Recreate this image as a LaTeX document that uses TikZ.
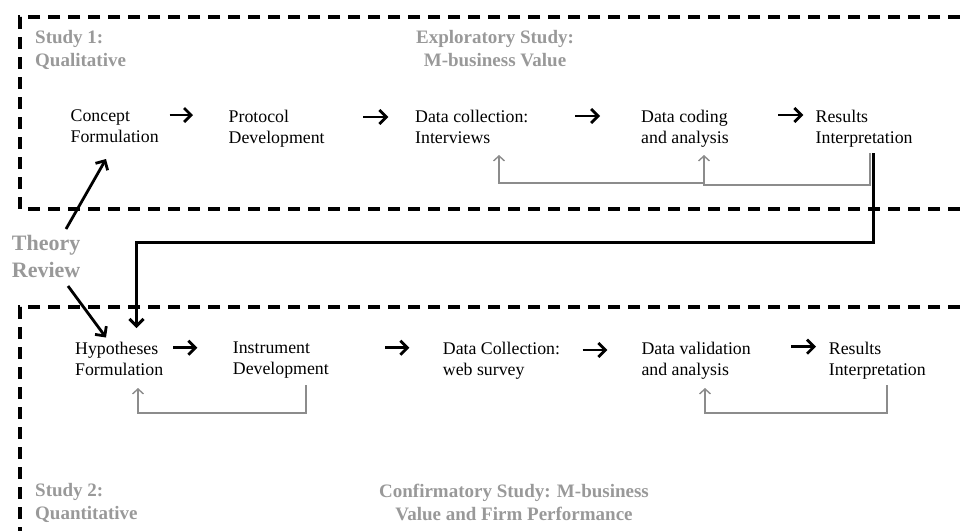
\documentclass[tikz,border=0pt]{standalone}
\usepackage{fontspec}
\setmainfont{Liberation Serif}
\usepackage{tikz}
\usetikzlibrary{arrows.meta, positioning}

\definecolor{labelgray}{gray}{0.6}
\definecolor{loopgray}{gray}{0.55}

\begin{document}
\begin{tikzpicture}[x=1pt, y=-1pt,
    dashbox/.style={draw=black, line width=3.3pt, dash pattern=on 12pt off 8pt},
    flow/.style={draw=black, line width=2.8pt, -{Straight Barb[length=7pt,width=14pt]}},
    link/.style={draw=black, line width=3pt, -{Straight Barb[length=7pt,width=14pt]}},
    fb/.style={draw=loopgray, line width=1.4pt, -{Straight Barb[length=5pt,width=11pt]}}]
        \useasboundingbox (0,0) rectangle (960,531);
        % the two study frames
        \draw[dashbox] (960,17) -- (20,17) -- (20,209) -- (960,209);
        \draw[dashbox] (960,307) -- (20,307) -- (20,531);
        \begin{scope}[every node/.style={inner sep=0pt, anchor=north west, align=left,
            font=\fontsize{17.8}{21}\selectfont}]
          \node (cf) at (70.5,109.7) {Concept\\Formulation};
          \node (pd) at (228.5,109.7) {Protocol\\Development};
          \node (dc) at (415,109.7) {Data collection:\\Interviews};
          \node (da) at (641,109.7) {Data coding\\and analysis};
          \node (ri) at (815.5,109.7) {Results\\Interpretation};
          \node (hf) at (75,341.7) {Hypotheses\\Formulation};
          \node (id) at (232.7,341.7) {Instrument\\Development};
          \node (ws) at (442.7,341.7) {Data Collection:\\web survey};
          \node (dv) at (641.3,341.7) {Data validation\\and analysis};
          \node (rr) at (828.7,341.7) {Results\\Interpretation};
        \end{scope}
        \begin{scope}[every node/.style={inner sep=0pt, text=labelgray,
            font=\fontsize{19}{23}\selectfont\bfseries}]
          \node[anchor=north west, align=left] (s1) at (35,30.2) {Study 1:\\Qualitative};
          \node[anchor=north, align=center] (ex) at (495,30.2) {Exploratory Study:\\M-business Value};
          \node[anchor=north west, align=left] (s2) at (35,483.6) {Study 2:\\Quantitative};
          \node[anchor=north, align=center] (cs) at (514,483.6) {Confirmatory Study: M-business\\Value and Firm Performance};
          \node[anchor=north west, align=left, font=\fontsize{22}{27}\selectfont\bfseries] (tr) at (11.7,235) {Theory\\Review};
        \end{scope}
        % steps of study 1
        \draw[flow] ([shift={(99,5.3)}]cf.north west) -- ([shift={(-35.5,5.3)}]pd.north west);
        \draw[flow] ([shift={(134.8,7.3)}]pd.north west) -- ([shift={(-26.7,7.3)}]dc.north west);
        \draw[flow] ([shift={(160,6.3)}]dc.north west) -- ([shift={(-41,6.3)}]da.north west);
        \draw[flow] ([shift={(137.3,5.3)}]da.north west) -- ([shift={(-12.2,5.3)}]ri.north west);
        % steps of study 2
        \draw[flow] ([shift={(98.3,6)}]hf.north west) -- ([shift={(-35.4,6)}]id.north west);
        \draw[flow] ([shift={(152.3,6)}]id.north west) -- ([shift={(-33.4,6)}]ws.north west);
        \draw[flow] ([shift={(140,8.3)}]ws.north west) -- ([shift={(-34,8.3)}]dv.north west);
        \draw[flow] ([shift={(149.7,5)}]dv.north west) -- ([shift={(-12.7,5)}]rr.north west);
        % feedback loops
        \draw[fb] ([shift={(54.5,43.3)}]ri.north west) -- ++(0,32) -| ([shift={(63,45.3)}]da.north west);
        \draw[fb] ([shift={(63,73.3)}]da.north west) -| ([shift={(84,45.3)}]dc.north west);
        \draw[fb] ([shift={(73.3,43.3)}]id.north west) -- ++(0,28) -| ([shift={(63,46.3)}]hf.north west);
        \draw[fb] ([shift={(58.3,43.3)}]rr.north west) -- ++(0,28) -| ([shift={(63.7,46.3)}]dv.north west);
        % from study 1 to study 2
        \draw[link] ([shift={(58,43.3)}]ri.north west) -- ++(0,89) -| ([shift={(61.5,-13.7)}]hf.north west);
        \draw[flow] ([shift={(54.3,-6)}]tr.north west) -- ([shift={(35.5,49.3)}]cf.north west);
        \draw[flow] ([shift={(56.3,51)}]tr.north west) -- ([shift={(31,-4.2)}]hf.north west);
      \end{tikzpicture}
\end{document}
